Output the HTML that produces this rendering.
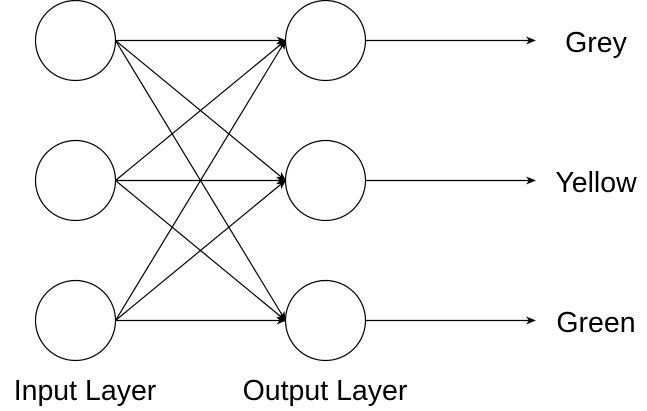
<!DOCTYPE html>
<html><head><style>
html,body{margin:0;padding:0;background:#fff;}
svg{display:block;}
text{font-family:"Liberation Sans",Arial,sans-serif;font-size:28.5px;fill:#000;}
</style></head><body>
<svg width="647" height="411" viewBox="0 0 647 411">
<defs>
<marker id="a" markerWidth="10" markerHeight="8" refX="9" refY="4" orient="auto" markerUnits="userSpaceOnUse">
<path d="M0,0 L10,4 L0,8 L3,4 Z" fill="#000"/>
</marker>
</defs>
<g fill="none" stroke="#000" stroke-width="1.2">
<circle cx="75.5" cy="40.5" r="40"/>
<circle cx="75.5" cy="180.5" r="40"/>
<circle cx="75.5" cy="320.5" r="40"/>
<circle cx="325.5" cy="40.5" r="40"/>
<circle cx="325.5" cy="180.5" r="40"/>
<circle cx="325.5" cy="320.5" r="40"/>
</g>
<g stroke="#000" stroke-width="1.2" marker-end="url(#a)">
<line x1="115.5" y1="40.5" x2="285.5" y2="40.5"/>
<line x1="115.5" y1="40.5" x2="285.5" y2="180.5"/>
<line x1="115.5" y1="40.5" x2="285.5" y2="320.5"/>
<line x1="115.5" y1="180.5" x2="285.5" y2="40.5"/>
<line x1="115.5" y1="180.5" x2="285.5" y2="180.5"/>
<line x1="115.5" y1="180.5" x2="285.5" y2="320.5"/>
<line x1="115.5" y1="320.5" x2="285.5" y2="40.5"/>
<line x1="115.5" y1="320.5" x2="285.5" y2="180.5"/>
<line x1="115.5" y1="320.5" x2="285.5" y2="320.5"/>
<line x1="365.5" y1="40.5" x2="535" y2="40.5"/>
<line x1="365.5" y1="180.5" x2="535" y2="180.5"/>
<line x1="365.5" y1="320.5" x2="535" y2="320.5"/>
</g>
<text x="596" y="52" text-anchor="middle">Grey</text>
<text x="596" y="192" text-anchor="middle">Yellow</text>
<text x="596" y="332" text-anchor="middle">Green</text>
<text x="85" y="400" text-anchor="middle">Input Layer</text>
<text x="325" y="400" text-anchor="middle">Output Layer</text>
</svg>
</body></html>
